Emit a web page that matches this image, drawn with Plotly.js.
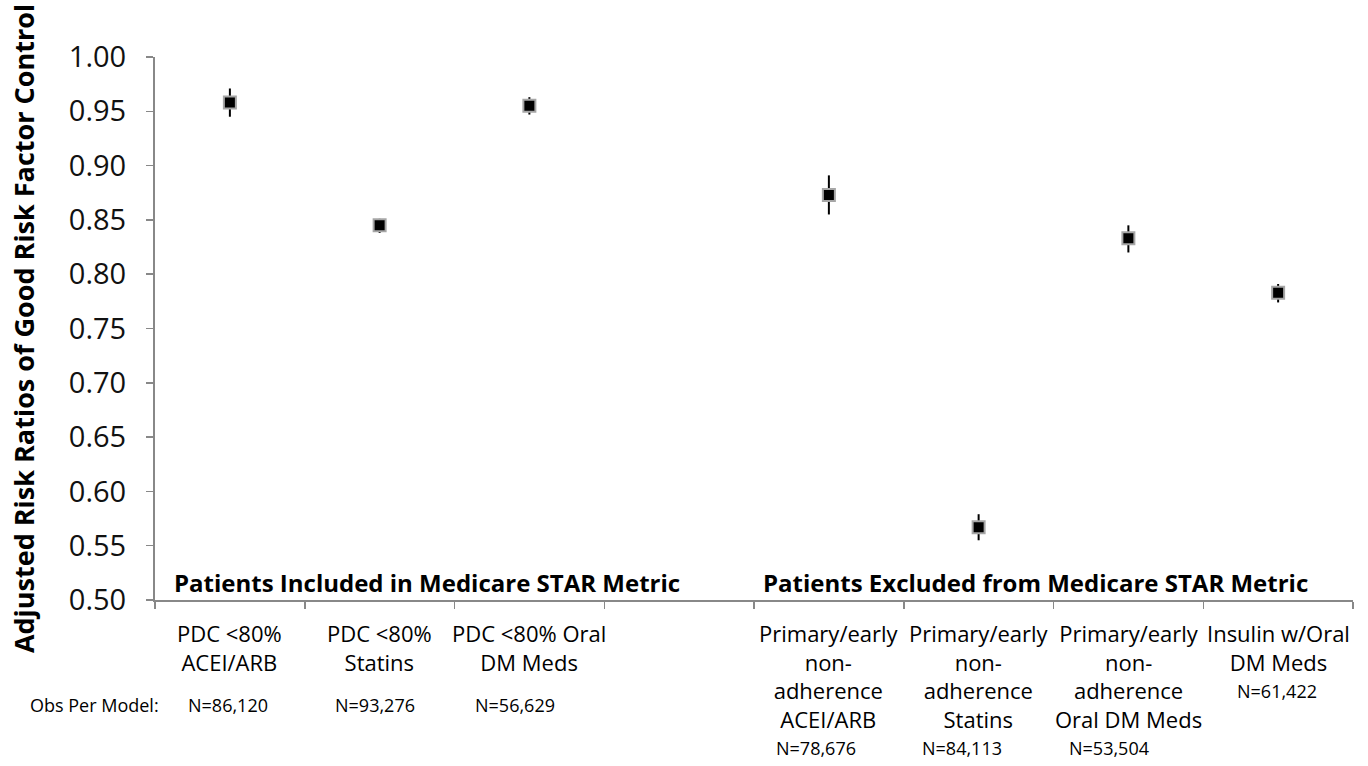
<!DOCTYPE html>
<html>
<head>
<meta charset="utf-8">
<script src="https://cdn.plot.ly/plotly-3.0.1.min.js"></script>
<style>html,body{margin:0;padding:0;background:#fff;}#chart{width:1368px;height:766px;}</style>
</head>
<body>
<div id="chart"></div>
<script>
// ---- data ----
const labels = [
  "PDC <80%<br>ACEI/ARB",
  "PDC <80%<br>Statins",
  "PDC <80% Oral<br>DM Meds",
  "Primary/early<br>non-<br>adherence<br>ACEI/ARB",
  "Primary/early<br>non-<br>adherence<br>Statins",
  "Primary/early<br>non-<br>adherence<br>Oral DM Meds",
  "Insulin w/Oral<br>DM Meds"
];
const nObs = ["N=86,120", "N=93,276", "N=56,629", "N=78,676", "N=84,113", "N=53,504", "N=61,422"];
const ratio = [0.958, 0.845, 0.955, 0.873, 0.567, 0.833, 0.783];
const ciLow = [0.945, 0.838, 0.947, 0.855, 0.555, 0.820, 0.774];
const ciHigh = [0.971, 0.851, 0.963, 0.891, 0.579, 0.845, 0.791];
const groupOf = [0, 0, 0, 1, 1, 1, 1];
const groupTitles = ["Patients Included in Medicare STAR Metric", "Patients Excluded from Medicare STAR Metric"];
const obsLabel = "Obs Per Model:";
const spacer = " ";
const yTitle = "Adjusted Risk Ratios of Good Risk Factor Control";

// ---- layout helpers ----
const categoryOrder = labels.slice(0, 3).concat([spacer], labels.slice(3));
const FONT = "Open Sans, DejaVu Sans, sans-serif";
const W = 1368, H = 766;
const M = {l: 155, r: 15, t: 57, b: 166};
const plotH = H - M.t - M.b;
const pxToPaperY = py => (M.t + plotH - py) / plotH;
const pxToPaperX = px => (px - M.l) / (W - M.l - M.r);
const nLabelShift = [-2, -5, -14, -13, -17, -19, -1];

const trace = {
  type: "scatter",
  mode: "markers",
  x: labels,
  y: ratio,
  marker: {symbol: "square", size: 12, color: "#000", line: {color: "#a6a6a6", width: 2}},
  error_y: {
    type: "data", symmetric: false,
    array: ciHigh.map((h, i) => h - ratio[i]),
    arrayminus: ciLow.map((l, i) => ratio[i] - l),
    color: "#000", thickness: 2, width: 0
  },
  hoverinfo: "x+y"
};

const annotations = [];
labels.forEach((lab, i) => {
  annotations.push({
    xref: "x", yref: "paper", x: lab, y: pxToPaperY(616), yanchor: "top", xanchor: "center",
    text: lab, showarrow: false, align: "center",
    font: {family: FONT, size: 22, color: "#000"}
  });
  const nLines = lab.split("<br>").length;
  const py = groupOf[i] === 0 ? 705 : 634 + nLines * 28.6;
  annotations.push({
    xref: "x", yref: "paper", x: lab, y: pxToPaperY(py), yanchor: "middle", xanchor: "center",
    xshift: nLabelShift[i],
    text: nObs[i], showarrow: false,
    font: {family: FONT, size: 18, color: "#000"}
  });
});
annotations.push({
  xref: "paper", yref: "paper", x: pxToPaperX(94), y: pxToPaperY(705), xanchor: "center", yanchor: "middle",
  text: obsLabel, showarrow: false, font: {family: FONT, size: 18, color: "#000"}
});
// group titles centred over their categories
[0, 1].forEach(g => {
  const idx = categoryOrder.map((c, k) => (labels.indexOf(c) >= 0 && groupOf[labels.indexOf(c)] === g) ? k : null).filter(k => k !== null);
  const centre = (idx[0] + idx[idx.length - 1]) / 2;
  annotations.push({
    xref: "x", yref: "paper", x: centre, y: pxToPaperY(582), xanchor: "center", yanchor: "middle",
    xshift: g === 0 ? 47 : -18,
    text: "<b>" + groupTitles[g] + "</b>", showarrow: false,
    font: {family: FONT, size: 24, color: "#000"}
  });
});

const layout = {
  width: W, height: H,
  margin: M,
  paper_bgcolor: "#fff", plot_bgcolor: "#fff",
  showlegend: false,
  xaxis: {
    type: "category", categoryorder: "array", categoryarray: categoryOrder,
    range: [-0.5, categoryOrder.length - 0.5],
    tickson: "boundaries", ticks: "outside", ticklen: 7, tickwidth: 1.5, tickcolor: "#888",
    showticklabels: false, showgrid: false, zeroline: false,
    showline: true, linecolor: "#888", linewidth: 2, fixedrange: true
  },
  yaxis: {
    range: [0.5, 1.0], dtick: 0.05, tick0: 0.5, tickformat: ".2f",
    ticks: "outside", ticklen: 7, tickwidth: 1.5, tickcolor: "#888",
    showgrid: false, zeroline: false, showline: true, linecolor: "#888", linewidth: 2,
    tickfont: {family: FONT, size: 29, color: "#111"},
    ticklabelstandoff: 14,
    automargin: false,
    title: {text: "<b>" + yTitle + "</b>", font: {family: FONT, size: 27, color: "#000"}, standoff: 26}
  },
  annotations: annotations
};

Plotly.newPlot("chart", [trace], layout, {displayModeBar: false, staticPlot: true});
</script>
</body>
</html>
